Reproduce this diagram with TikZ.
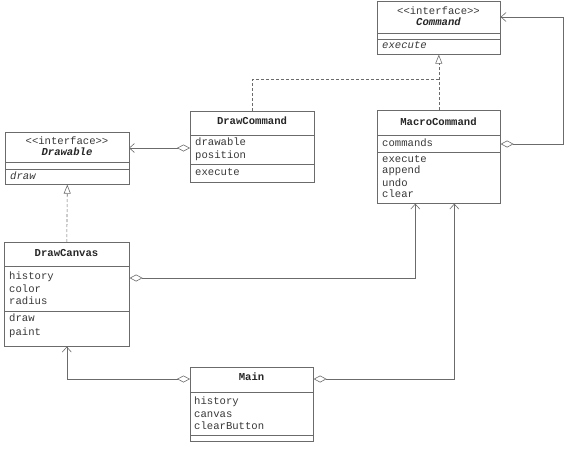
\documentclass[tikz,border=0pt]{standalone}
\usepackage{fontspec}
\setmonofont{Liberation Mono}
\usetikzlibrary{arrows.meta}
\definecolor{lc}{gray}{0.42}
\definecolor{tc}{gray}{0.22}
\tikzset{
  cls/.style={draw=lc, line width=0.6pt, inner sep=0pt, anchor=north west},
  sep/.style={draw=lc, line width=0.6pt},
  txt/.style={anchor=mid west, inner sep=0pt, text=tc, font=\fontsize{10.6}{12}\selectfont\ttfamily},
  ttl/.style={anchor=mid, inner sep=0pt, text=black!85, font=\fontsize{10.6}{12}\selectfont\ttfamily\bfseries},
  ster/.style={anchor=mid, inner sep=0pt, text=tc, font=\fontsize{10.6}{12}\selectfont\ttfamily},
  itl/.style={anchor=mid, inner sep=0pt, text=black!85, font=\fontsize{10.6}{12}\selectfont\ttfamily\bfseries\itshape},
  meth/.style={txt, font=\fontsize{10.6}{12}\selectfont\ttfamily\itshape},
  conn/.style={draw=lc, line width=0.6pt},
  agg/.style={conn, {Diamond[open, length=13pt, width=7pt]}-{Straight Barb[length=5pt, width=9pt]}},
  inh/.style={conn, dash pattern=on 3pt off 2pt, -{Triangle[open, length=9pt, width=7pt]}},
  real/.style={conn, dash pattern=on 3pt off 2pt}
}
\begin{document}
\begin{tikzpicture}[x=1pt, y=-1pt]
\useasboundingbox (0,0) rectangle (568,451);
% Command
\node[cls, minimum width=123pt, minimum height=53pt] (cmd) at (377,1) {};
\draw[sep] (377,33) -- (500,33) (377,39) -- (500,39);
\node[ster] (cmdS) at (438.5,12) {<<interface>>};
\node[itl] (cmdT) at (438.5,23) {Command};
\node[meth] (cmdM) at (382,46) {execute};
% Drawable
\node[cls, minimum width=124pt, minimum height=52pt] (drw) at (5,132) {};
\draw[sep] (5,162) -- (129,162) (5,169) -- (129,169);
\node[ster] (drwS) at (67,142) {<<interface>>};
\node[itl] (drwT) at (67,153) {Drawable};
\node[meth] (drwM) at (10,177) {draw};
% DrawCommand
\node[cls, minimum width=124pt, minimum height=71pt] (dc) at (190,111) {};
\draw[sep] (190,135) -- (314,135) (190,164) -- (314,164);
\node[ttl] (dcT) at (252,122) {DrawCommand};
\node[txt] (dcA1) at (195,143) {drawable};
\node[txt] (dcA2) at (195,156) {position};
\node[txt] (dcM1) at (195,173) {execute};
% MacroCommand
\node[cls, minimum width=123pt, minimum height=93pt] (mc) at (377,110) {};
\draw[sep] (377,135) -- (500,135) (377,152) -- (500,152);
\node[ttl] (mcT) at (438.5,123) {MacroCommand};
\node[txt] (mcA1) at (382,144) {commands};
\node[txt] (mcM1) at (382,160) {execute};
\node[txt] (mcM2) at (382,171) {append};
\node[txt] (mcM3) at (382,184) {undo};
\node[txt] (mcM4) at (382,195) {clear};
% DrawCanvas
\node[cls, minimum width=125pt, minimum height=104pt] (dcv) at (4,242) {};
\draw[sep] (4,266) -- (129,266) (4,311) -- (129,311);
\node[ttl] (dcvT) at (66.5,254) {DrawCanvas};
\node[txt] (dcvA1) at (9,277) {history};
\node[txt] (dcvA2) at (9,290) {color};
\node[txt] (dcvA3) at (9,302) {radius};
\node[txt] (dcvM1) at (9,319) {draw};
\node[txt] (dcvM2) at (9,333) {paint};
% Main
\node[cls, minimum width=123pt, minimum height=74pt] (main) at (190,367) {};
\draw[sep] (190,392) -- (313,392) (190,435) -- (313,435);
\node[ttl] (mainT) at (251.5,378) {Main};
\node[txt] (mainA1) at (194,402) {history};
\node[txt] (mainA2) at (194,415) {canvas};
\node[txt] (mainA3) at (194,427) {clearButton};
% connectors
\draw[inh] (mc.north) -- (cmd.south);
\draw[real] (dc.north) |- ([yshift=-25pt]cmd.south);
\draw[inh] (dcv.north) -- (drw.south);
\coordinate (dcAgg) at (190,148);
\coordinate (drwIn) at (129,148);
\draw[agg] (dcAgg) -- (drwIn);
\draw[agg] ([yshift=-34pt]mc.north east) -- ++(63,0) |- ([yshift=-16pt]cmd.north east);
\draw[agg] ([yshift=-36pt]dcv.north east) -| ([xshift=-23.5pt]mc.south);
\draw[agg] ([yshift=-12pt]main.north west) -| (dcv.south);
\draw[agg] ([yshift=-12pt]main.north east) -| ([xshift=15.5pt]mc.south);
\end{tikzpicture}
\end{document}
